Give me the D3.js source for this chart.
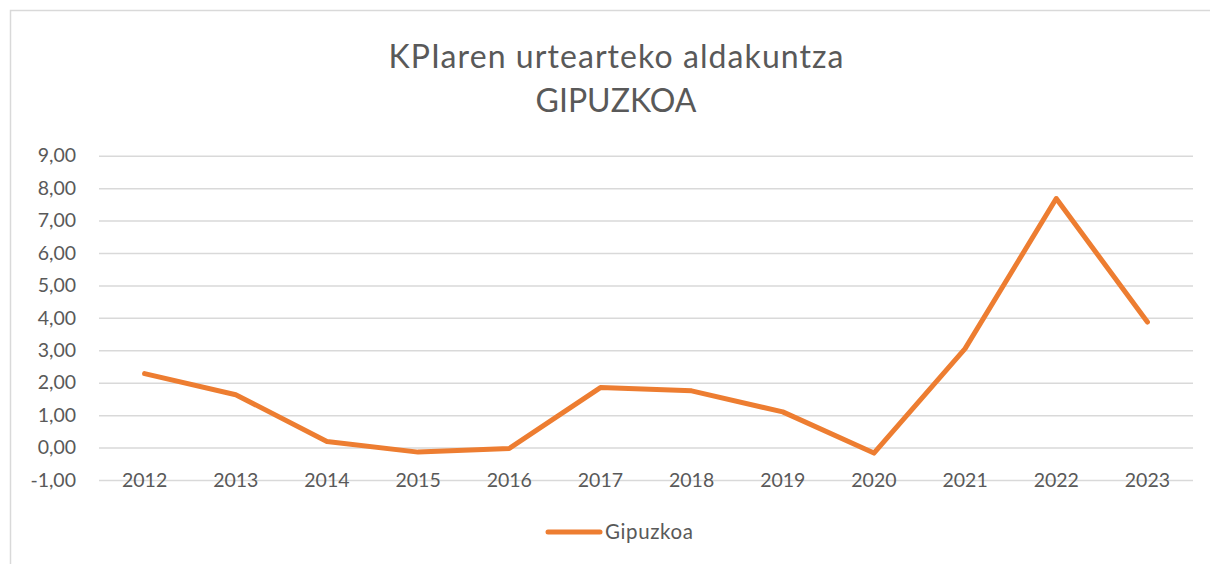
<!DOCTYPE html>
<html><head><meta charset="utf-8">
<script src="https://cdn.jsdelivr.net/npm/d3@7"></script>
<style>body{margin:0;background:#fff;} svg{display:block;}</style>
</head><body>
<script>
const years = ["2012","2013","2014","2015","2016","2017","2018","2019","2020","2021","2022","2023"];
const gipuzkoa = [2.28,1.63,0.19,-0.14,-0.03,1.85,1.75,1.10,-0.17,3.05,7.68,3.87];
const yTicks = [-1,0,1,2,3,4,5,6,7,8,9];
const titleLines = ["KPIaren urtearteko aldakuntza","GIPUZKOA"];
const seriesName = "Gipuzkoa";

const W=1210,H=564;
const font="Lato, 'Open Sans', sans-serif";
const svg=d3.select("body").append("svg").attr("width",W).attr("height",H);
svg.append("rect").attr("x",10.5).attr("y",10.5).attr("width",1250).attr("height",700)
  .attr("fill","#fff").attr("stroke","#d9d9d9").attr("stroke-width",1.5);

const x=d3.scaleBand().domain(years).range([99,1193]);
const y=d3.scaleLinear().domain([-1,9]).range([480,155.7]);
const fmt=d=>d3.format(".2f")(d).replace(".",",").replace("\u2212","-");

svg.append("g").attr("transform","translate(99,0)")
  .call(d3.axisLeft(y).tickValues(yTicks).tickSize(-(1193-99)).tickFormat(fmt))
  .call(g=>{g.select(".domain").remove();
    g.selectAll(".tick line").attr("stroke","#d9d9d9").attr("stroke-width",1.5);
    g.selectAll(".tick text").attr("x",-23).attr("fill","#595959").attr("font-size",19.5).attr("font-family",font);});

svg.append("g").attr("transform","translate(0,480)")
  .call(d3.axisBottom(x).tickSize(0).tickPadding(0))
  .call(g=>{g.select(".domain").remove();
    g.selectAll(".tick text").attr("dy",0).attr("y",7).attr("fill","#595959").attr("font-size",19.5).attr("font-family",font);});

const line=d3.line().x((d,i)=>x(years[i])+x.bandwidth()/2).y(d=>y(d));
svg.append("path").datum(gipuzkoa).attr("d",line).attr("fill","none")
  .attr("stroke","#ED7D31").attr("stroke-width",5).attr("stroke-linejoin","round").attr("stroke-linecap","round");

svg.selectAll(".title").data(titleLines).enter().append("text")
  .attr("x",616).attr("y",(d,i)=>68+i*44).attr("text-anchor","middle")
  .attr("font-size",32).attr("font-family",font).attr("fill","#595959")
  .each(function(d,i){ if(i===0) d3.select(this).attr("textLength",455).attr("lengthAdjust","spacing"); })
  .text(d=>d);

svg.append("line").attr("x1",548).attr("x2",600).attr("y1",532).attr("y2",532)
  .attr("stroke","#ED7D31").attr("stroke-width",5).attr("stroke-linecap","round");
svg.append("text").attr("x",605).attr("y",539).attr("font-size",20.5).attr("font-family",font)
  .attr("fill","#595959").attr("textLength",88).attr("lengthAdjust","spacing").text(seriesName);
</script>
</body></html>
